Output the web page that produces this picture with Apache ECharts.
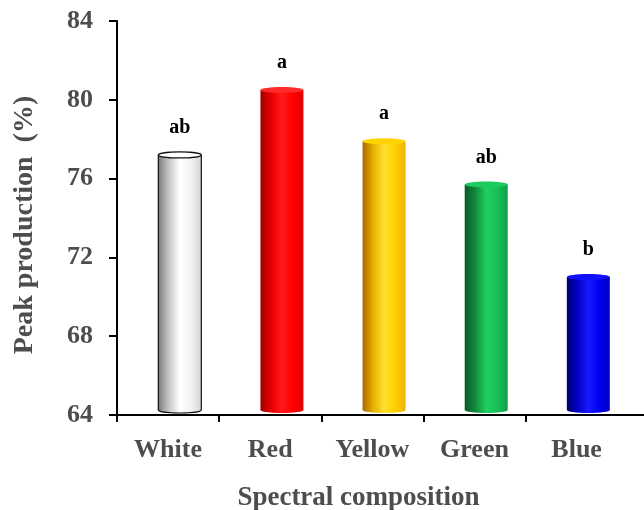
<!DOCTYPE html>
<html>
<head>
<meta charset="utf-8">
<script src="https://cdn.jsdelivr.net/npm/echarts@6/dist/echarts.min.js"></script>
<style>html,body{margin:0;padding:0;background:#fff;}#c{width:644px;height:510px;}</style>
</head>
<body>
<div id="c"></div>
<script>
const categories = ['White', 'Red', 'Yellow', 'Green', 'Blue'];
const peakValues = [77.2, 80.5, 77.9, 75.7, 71.0];
const letters = ['ab', 'a', 'a', 'ab', 'b'];
const yTicks = [64, 68, 72, 76, 80, 84];

const Y_MIN = 64, Y_MAX = 84, Y_STEP = 4;
const SHIFT = 0.115;
const BAR_W = 43;
const FONT = '"Times New Roman", "Liberation Serif", "DejaVu Serif", serif';
const TXT = '#4d4d4d';

function hGrad(stops) {
  return new echarts.graphic.LinearGradient(0, 0, 1, 0, stops.map((c, k) => ({offset: k / (stops.length - 1), color: c})));
}
const barStyles = [
  {body: ['#7a7a7a', '#c8c8c8', '#ffffff', '#f4f4f4', '#d6d6d6'], top: '#ffffff', stroke: '#111'},
  {body: ['#a00000', '#e80000', '#ff1a1a', '#ff0000', '#e00000'], top: '#ff2a2a', stroke: null},
  {body: ['#a86a00', '#e8b000', '#ffe030', '#ffd000', '#f0b400'], top: '#ffd400', stroke: null},
  {body: ['#0a5a28', '#138a3c', '#1ed060', '#18c058', '#10a048'], top: '#1ccc5c', stroke: null},
  {body: ['#00006a', '#0000c8', '#1a1aff', '#0000f0', '#0000c0'], top: '#1010ff', stroke: null}
];

const chart = echarts.init(document.getElementById('c'), null, {renderer: 'canvas'});
chart.setOption({
  animation: false,
  backgroundColor: '#fff',
  grid: {left: 117, right: 0, top: 21, bottom: 95, containLabel: false, outerBoundsMode: 'none'},
  xAxis: {
    type: 'value', min: 0, max: 5.16,
    name: 'Spectral composition', nameLocation: 'middle', nameGap: 70,
    nameTextStyle: {fontFamily: FONT, fontWeight: 'bold', fontSize: 27, color: TXT, padding: [0, 44, 0, 0]},
    axisLine: {show: true, lineStyle: {color: '#000', width: 2}},
    axisTick: {show: true, length: 7, lineStyle: {color: '#000', width: 2}, customValues: [0, 1, 2, 3, 4]},
    axisLabel: {
      customValues: categories.map((c, i) => i + 0.5),
      formatter: v => categories[Math.floor(v)] || '',
      fontFamily: FONT, fontWeight: 'bold', fontSize: 26, color: TXT, margin: 22
    },
    splitLine: {show: false}
  },
  yAxis: {
    type: 'value', min: Y_MIN, max: Y_MAX, interval: Y_STEP,
    name: 'Peak production  (%)', nameLocation: 'middle', nameGap: 78,
    nameTextStyle: {fontFamily: FONT, fontWeight: 'bold', fontSize: 28, color: TXT, padding: [0, 14, 0, 0]},
    axisLine: {show: true, lineStyle: {color: '#000', width: 2}},
    axisTick: {show: true, length: 8, lineStyle: {color: '#000', width: 2}},
    axisLabel: {
      customValues: yTicks,
      fontFamily: FONT, fontWeight: 'bold', fontSize: 26, color: TXT, margin: 24
    },
    splitLine: {show: false}
  },
  series: [{
    type: 'custom',
    data: peakValues.map((v, i) => [i, v]),
    renderItem: function (params, api) {
      const i = api.value(0), v = api.value(1);
      const top = api.coord([i + 0.5 + SHIFT, v]);
      const base = api.coord([i + 0.5 + SHIFT, Y_MIN]);
      const cx = top[0], rx = BAR_W / 2, ry = 3;
      const yTop = top[1], yBot = base[1] - 5;
      const st = barStyles[i];
      const g = hGrad(st.body);
      const children = [
        {type: 'ellipse', shape: {cx: cx, cy: yBot, rx: rx, ry: ry},
          style: {fill: g, stroke: st.stroke || null, lineWidth: 1.2}},
        {type: 'rect', shape: {x: cx - rx, y: yTop, width: BAR_W, height: yBot - yTop},
          style: {fill: g}}
      ];
      if (st.stroke) {
        children.push({type: 'line', shape: {x1: cx - rx, y1: yTop, x2: cx - rx, y2: yBot}, style: {stroke: st.stroke, lineWidth: 1.2}});
        children.push({type: 'line', shape: {x1: cx + rx, y1: yTop, x2: cx + rx, y2: yBot}, style: {stroke: st.stroke, lineWidth: 1.2}});
      }
      children.push({type: 'ellipse', shape: {cx: cx, cy: yTop, rx: rx, ry: ry},
        style: {fill: st.top, stroke: st.stroke || null, lineWidth: 1.2}});
      children.push({type: 'text', style: {
        text: letters[i], x: cx, y: yTop - 27, align: 'center', verticalAlign: 'middle',
        font: 'bold 20px ' + FONT, fill: '#000'
      }});
      return {type: 'group', children: children};
    }
  }]
});
</script>
</body>
</html>
